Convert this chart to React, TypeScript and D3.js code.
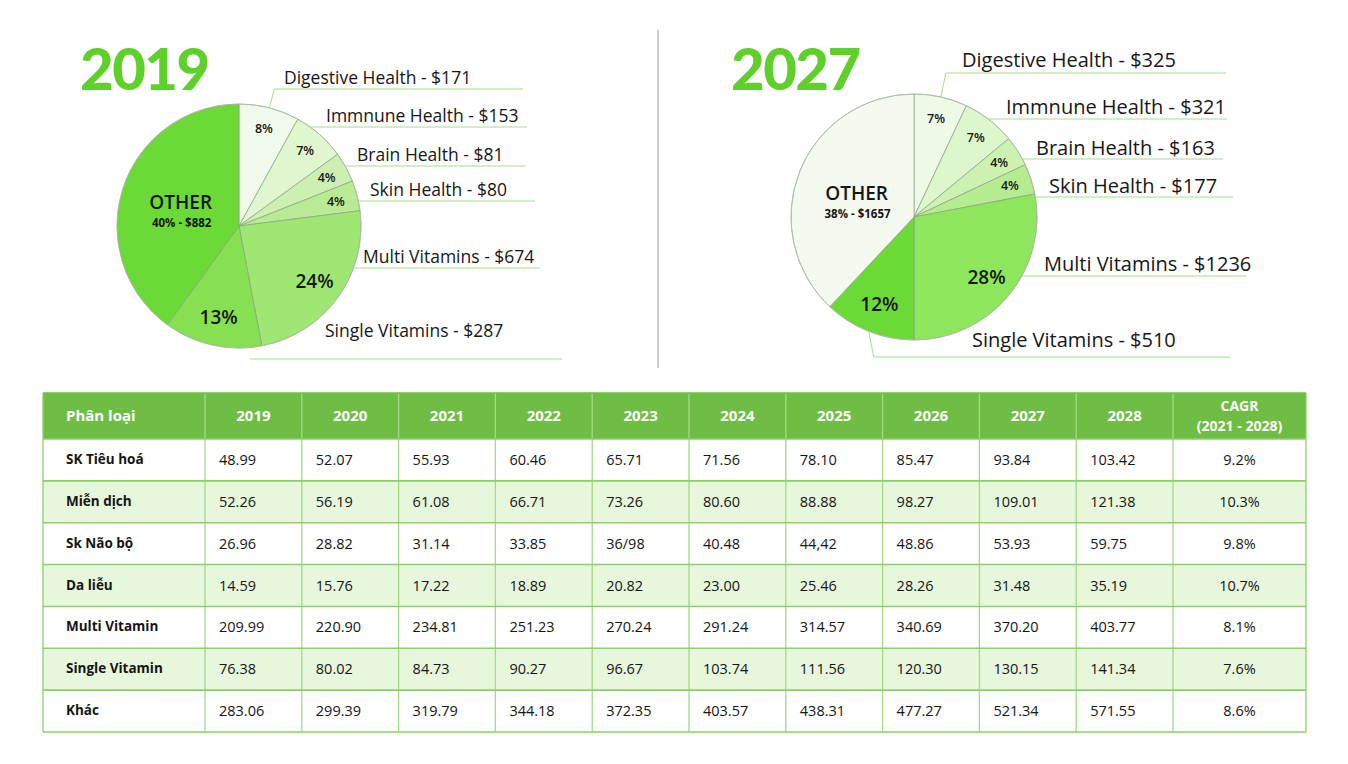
import React from 'react';
import * as d3 from 'd3';

// ---------- DATA ----------
const pieCategories = ['Digestive Health', 'Immnune Health', 'Brain Health', 'Skin Health', 'Multi Vitamins', 'Single Vitamins', 'OTHER'];
const values2019 = [171, 153, 81, 80, 674, 287, 882];
const shares2019 = [8, 7, 4, 4, 24, 13, 40];
const values2027 = [325, 321, 163, 177, 1236, 510, 1657];
const shares2027 = [7, 7, 4, 4, 28, 12, 38];

const tableHeaderFirst = 'Phân loại';
const tableYears = ['2019', '2020', '2021', '2022', '2023', '2024', '2025', '2026', '2027', '2028'];
const tableCagrHeader = ['CAGR', '(2021 - 2028)'];
const tableRowNames = ['SK Tiêu hoá', 'Miễn dịch', 'Sk Não bộ', 'Da liễu', 'Multi Vitamin', 'Single Vitamin', 'Khác'];
const rowTieuHoa = ['48.99', '52.07', '55.93', '60.46', '65.71', '71.56', '78.10', '85.47', '93.84', '103.42'];
const rowMienDich = ['52.26', '56.19', '61.08', '66.71', '73.26', '80.60', '88.88', '98.27', '109.01', '121.38'];
const rowNaoBo = ['26.96', '28.82', '31.14', '33.85', '36/98', '40.48', '44,42', '48.86', '53.93', '59.75'];
const rowDaLieu = ['14.59', '15.76', '17.22', '18.89', '20.82', '23.00', '25.46', '28.26', '31.48', '35.19'];
const rowMulti = ['209.99', '220.90', '234.81', '251.23', '270.24', '291.24', '314.57', '340.69', '370.20', '403.77'];
const rowSingle = ['76.38', '80.02', '84.73', '90.27', '96.67', '103.74', '111.56', '120.30', '130.15', '141.34'];
const rowKhac = ['283.06', '299.39', '319.79', '344.18', '372.35', '403.57', '438.31', '477.27', '521.34', '571.55'];
const tableCagr = ['9.2%', '10.3%', '9.8%', '10.7%', '8.1%', '7.6%', '8.6%'];
const tableRows = [rowTieuHoa, rowMienDich, rowNaoBo, rowDaLieu, rowMulti, rowSingle, rowKhac];

// ---------- STYLE / LAYOUT ----------
const FONT = '"Open Sans", Lato, sans-serif';
const TITLE_FONT = 'Lato, "Open Sans", sans-serif';
const TITLE_GREEN = '#5fd02a';
const LINE_GREEN = '#a8dd8a';
const colors2019 = ['#f1faea', '#e0f6cf', '#cdf0b2', '#b9eb94', '#a0e673', '#86e052', '#6cda36'];
const colors2027 = ['#eefae6', '#def6cc', '#ccf1b1', '#b6ec90', '#8ee65c', '#6cda36', '#f4faef'];

type LabelLayout = { tx: number; ty: number; ly: number; lx2: number; lx1?: number; leader?: boolean };

const layout2019: LabelLayout[] = [
  { tx: 284, ty: 84, ly: 89, lx2: 523, leader: true },
  { tx: 326, ty: 122, ly: 127, lx2: 527 },
  { tx: 357, ty: 161, ly: 166, lx2: 525 },
  { tx: 370, ty: 196, ly: 201, lx2: 535 },
  { tx: 363, ty: 263, ly: 268, lx2: 540 },
  { tx: 325, ty: 337, ly: 359, lx2: 562, lx1: 250 },
];
const layout2027: LabelLayout[] = [
  { tx: 962, ty: 67, ly: 73, lx2: 1226, leader: true },
  { tx: 1006, ty: 114, ly: 119, lx2: 1227 },
  { tx: 1036, ty: 155, ly: 159, lx2: 1223 },
  { tx: 1049, ty: 193, ly: 197, lx2: 1233 },
  { tx: 1044, ty: 271, ly: 276, lx2: 1246 },
  { tx: 972, ty: 347, ly: 357, lx2: 1230, leader: true },
];

type PieProps = {
  title: string; titleX: number; cx: number; cy: number; r: number;
  shares: number[]; values: number[]; colors: string[]; layout: LabelLayout[]; labelSize: number; otherDy: number;
};

function PieBlock({ title, titleX, cx, cy, r, shares, values, colors, layout, labelSize, otherDy }: PieProps) {
  const arcs = d3.pie<number>().sort(null).value((d) => d)(shares);
  const arcGen = d3.arc<d3.PieArcDatum<number>>().innerRadius(0).outerRadius(r);
  const n = shares.length;
  return (
    <g>
      <text x={titleX} y={90} fontFamily={TITLE_FONT} fontWeight={900} fontSize={58} fill={TITLE_GREEN} letterSpacing={-1.5}>{title}</text>
      <g transform={`translate(${cx},${cy})`}>
        {arcs.map((a, i) => (
          <path key={i} d={arcGen(a) || ''} fill={colors[i]} stroke="#8c9e84" strokeWidth={0.7} />
        ))}
        <circle r={r} fill="none" stroke="#b5bcb0" strokeWidth={0.8} />
        {arcs.map((a, i) => {
          const mid = (a.startAngle + a.endAngle) / 2;
          if (i === n - 1) {
            const lr = r * 0.52;
            const x = lr * Math.sin(mid);
            const y = -lr * Math.cos(mid);
            return (
              <g key={'l' + i}>
                <text x={x + 2} y={y + otherDy} textAnchor="middle" fontFamily={FONT} fontWeight={600} fontSize={19} fill="#161616">OTHER</text>
                <text x={x + 3} y={y + otherDy + 18} textAnchor="middle" fontFamily={FONT} fontWeight={700} fontSize={11.5} fill="#161616">{`${shares[i]}% - $${values[i]}`}</text>
              </g>
            );
          }
          const big = shares[i] >= 10;
          const lr = r * (big ? 0.765 : 0.82);
          const x = lr * Math.sin(mid);
          const y = -lr * Math.cos(mid);
          return (
            <text key={'l' + i} x={x} y={y} dy="0.35em" textAnchor="middle" fontFamily={FONT}
              fontWeight={600} fontSize={big ? 19 : 12.5} fill="#161616">{`${shares[i]}%`}</text>
          );
        })}
      </g>
      {layout.map((L, i) => {
        const a = arcs[i];
        const mid = (a.startAngle + a.endAngle) / 2;
        let x1 = L.lx1 ?? cx;
        let leader: React.ReactNode = null;
        if (L.leader) {
          const px = cx + r * Math.sin(mid);
          const py = cy - r * Math.cos(mid);
          x1 = px + 5;
          leader = <line x1={px} y1={py} x2={x1} y2={L.ly} stroke={LINE_GREEN} strokeWidth={1} />;
        } else if (L.lx1 === undefined) {
          const dy = L.ly - cy;
          x1 = cx + Math.sqrt(Math.max(0, r * r - dy * dy));
        }
        return (
          <g key={'o' + i}>
            {leader}
            <line x1={x1} y1={L.ly} x2={L.lx2} y2={L.ly} stroke={LINE_GREEN} strokeWidth={1} />
            <text x={L.tx} y={L.ty} fontFamily={FONT} fontSize={labelSize} fill="#161616">{`${pieCategories[i]} - $${values[i]}`}</text>
          </g>
        );
      })}
    </g>
  );
}

function DataTable() {
  const left = 43, right = 1306, top = 393, headerBottom = 439, bottom = 732;
  const firstColRight = 205, yearsRight = 1173;
  const xYear = d3.scaleBand<string>().domain(tableYears).range([firstColRight, yearsRight]);
  const yRow = d3.scaleBand<string>().domain(tableRowNames).range([headerBottom, bottom]);
  const border = '#8dcf68';
  const headerFill = '#70bd45';
  const lightRow = '#e6f7dc';
  const colEdges = [left, ...tableYears.map((y) => xYear(y) as number), yearsRight, right];
  const rowEdges = [top, ...tableRowNames.map((n) => yRow(n) as number), bottom];
  const bw = xYear.bandwidth();
  const bh = yRow.bandwidth();
  return (
    <g fontFamily={FONT}>
      <rect x={left} y={top} width={right - left} height={headerBottom - top} fill={headerFill} />
      {tableRowNames.map((name, i) => (
        <rect key={name} x={left} y={yRow(name)} width={right - left} height={bh} fill={i % 2 === 1 ? lightRow : '#ffffff'} />
      ))}
      <text x={66} y={(top + headerBottom) / 2} dy="0.35em" fill="#fff" fontWeight={700} fontSize={15}>{tableHeaderFirst}</text>
      {tableYears.map((y) => (
        <text key={y} x={(xYear(y) as number) + bw / 2} y={(top + headerBottom) / 2} dy="0.35em" textAnchor="middle" fill="#fff" fontWeight={700} fontSize={15}>{y}</text>
      ))}
      <text x={(yearsRight + right) / 2} y={406} dy="0.35em" textAnchor="middle" fill="#fff" fontWeight={700} fontSize={14}>{tableCagrHeader[0]}</text>
      <text x={(yearsRight + right) / 2} y={426} dy="0.35em" textAnchor="middle" fill="#fff" fontWeight={700} fontSize={14}>{tableCagrHeader[1]}</text>
      {tableRowNames.map((name, ri) => {
        const cyRow = (yRow(name) as number) + bh / 2;
        return (
          <g key={name}>
            <text x={66} y={cyRow} dy="0.3em" fill="#151515" fontWeight={700} fontSize={13.5}>{name}</text>
            {tableRows[ri].map((v, ci) => (
              <text key={ci} x={(xYear(tableYears[ci]) as number) + 14} y={cyRow} dy="0.35em" fill="#151515" fontSize={14.5}>{v}</text>
            ))}
            <text x={(yearsRight + right) / 2} y={cyRow} dy="0.35em" textAnchor="middle" fill="#151515" fontSize={14.5}>{tableCagr[ri]}</text>
          </g>
        );
      })}
      {colEdges.map((x, i) => (
        <line key={'c' + i} x1={x} x2={x} y1={top} y2={bottom}
          stroke={i === 0 || i === colEdges.length - 1 ? border : '#a4da86'} strokeWidth={1.3} />
      ))}
      {rowEdges.map((y, i) => (
        <line key={'r' + i} x1={left} x2={right} y1={y} y2={y} stroke={i === 0 ? headerFill : border} strokeWidth={1.6} />
      ))}
    </g>
  );
}

export default function App() {
  return (
    <svg width={1348} height={764} style={{ position: 'absolute', left: 0, top: 0, background: '#fff' }}>
      <rect width={1348} height={764} fill="#fff" />
      <PieBlock title="2019" titleX={80} cx={239} cy={226} r={122} shares={shares2019} values={values2019}
        colors={colors2019} layout={layout2019} labelSize={17.5} otherDy={3} />
      <line x1={658} x2={658} y1={30} y2={368} stroke="#9c9c9c" strokeWidth={1} />
      <PieBlock title="2027" titleX={731} cx={914} cy={217} r={123} shares={shares2027} values={values2027}
        colors={colors2027} layout={layout2027} labelSize={20} otherDy={7} />
      <DataTable />
    </svg>
  );
}
